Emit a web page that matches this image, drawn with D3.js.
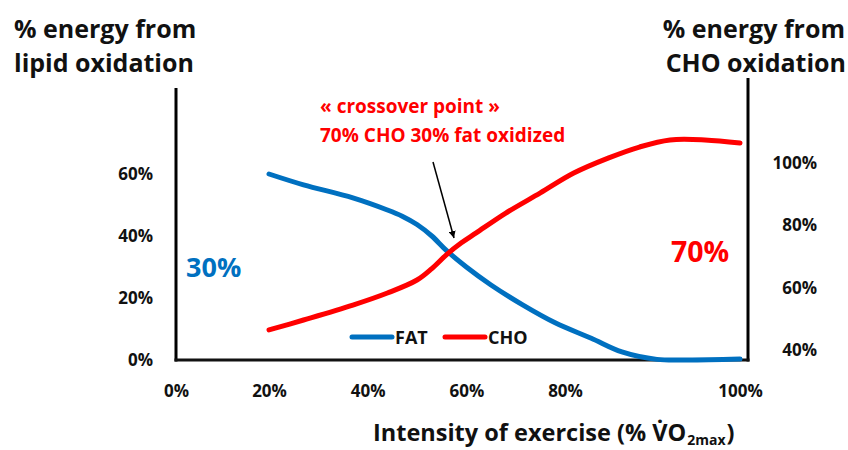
<!DOCTYPE html>
<html><head><meta charset="utf-8">
<script src="https://cdn.jsdelivr.net/npm/d3@7"></script>
<style>
body{margin:0;background:#fff}
svg{display:block}
text{font-family:"Open Sans",Lato,sans-serif;font-weight:700}
</style>
</head><body><svg id="c" width="848" height="450"></svg>
<script>
// ---- data ----
const xTicks = [0, 20, 40, 60, 80, 100];
const leftTicks = [0, 20, 40, 60];
const rightTicks = [40, 60, 80, 100];
const fatX = [20, 27, 37, 44, 47, 50, 53, 56, 60, 65, 71.5, 78, 83, 86.5, 90.5, 94, 100];
const fatY = [60, 56.5, 52.3, 48.4, 46.4, 43.7, 40, 35.3, 30, 24.2, 17.7, 12, 7, 2.6, 0.2, 0, 0.3];
const choX = [20, 27, 37, 44, 50, 53, 56, 59, 62, 68, 75, 81, 85, 88.5, 92, 96, 100];
const choY = [9.7, 12.9, 17.7, 21.6, 25.8, 29.5, 34, 37.8, 41, 47.4, 53.9, 60.3, 65.2, 68.7, 71, 71, 70];
const seriesNames = ["FAT", "CHO"];
const leftTitle = ["% energy from", "lipid oxidation"];
const rightTitle = ["% energy from", "CHO oxidation"];
const annotation = ["« crossover point »", "70% CHO 30% fat oxidized"];
const xTitle = ["Intensity of exercise (% V\u0307O", "2max", ")"];

const BLUE = "#0070C0", RED = "#FF0000";
const FONT = "'Open Sans', Lato, sans-serif";
const svg = d3.select("#c");
svg.append("rect").attr("width", 848).attr("height", 450).attr("fill", "#fff");

const x = d3.scaleLinear().domain([0, 20, 80, 100]).range([176, 269, 565, 740]);
const yL = d3.scaleLinear().domain([0, 60]).range([360, 174]);
const yR = d3.scaleLinear().domain([40, 100]).range([350, 163]);

// axes lines
svg.append("line").attr("x1", 176).attr("x2", 176).attr("y1", 88).attr("y2", 361.5)
  .attr("stroke", "#000").attr("stroke-width", 3);
svg.append("line").attr("x1", 748).attr("x2", 748).attr("y1", 78).attr("y2", 361.5)
  .attr("stroke", "#000").attr("stroke-width", 3);
svg.append("line").attr("x1", 174.5).attr("x2", 749.5).attr("y1", 360).attr("y2", 360)
  .attr("stroke", "#111").attr("stroke-width", 3);

// tick labels
const gl = svg.append("g").attr("transform", "translate(176,0)")
  .call(d3.axisLeft(yL).tickValues(leftTicks).tickSize(0).tickPadding(23).tickFormat(d => d + "%"));
const gr = svg.append("g").attr("transform", "translate(748,0)")
  .call(d3.axisRight(yR).tickValues(rightTicks).tickSize(0).tickFormat(d => d + "%"));
gr.selectAll("text").attr("x", 69).attr("text-anchor", "end");
const gx = svg.append("g").attr("transform", "translate(0,360)")
  .call(d3.axisBottom(x).tickValues(xTicks).tickSize(0).tickPadding(25).tickFormat(d => d + "%"));
[gl, gr, gx].forEach(g => {
  g.select(".domain").remove();
  g.selectAll("text").attr("font-family", FONT)
    .attr("font-weight", 700).attr("font-size", 17).attr("fill", "#111");
});

// lines
const line = d3.line().x(d => x(d[0])).y(d => yL(d[1])).curve(d3.curveCatmullRom.alpha(0.5));
const fat = fatX.map((v, i) => [v, fatY[i]]);
const cho = choX.map((v, i) => [v, choY[i]]);
svg.append("path").datum(fat).attr("d", line).attr("fill", "none").attr("stroke", BLUE)
  .attr("stroke-width", 5).attr("stroke-linecap", "round").attr("stroke-linejoin", "round");
svg.append("path").datum(cho).attr("d", line).attr("fill", "none").attr("stroke", RED)
  .attr("stroke-width", 5).attr("stroke-linecap", "round").attr("stroke-linejoin", "round");

// titles
const tl = svg.append("text").attr("font-size", 25).attr("fill", "#111");
tl.append("tspan").attr("x", 14).attr("y", 38).text(leftTitle[0]);
tl.append("tspan").attr("x", 14).attr("y", 72).text(leftTitle[1]);
const tr = svg.append("text").attr("text-anchor", "end").attr("font-size", 25).attr("fill", "#111");
tr.append("tspan").attr("x", 845).attr("y", 38).text(rightTitle[0]);
tr.append("tspan").attr("x", 846).attr("y", 72).text(rightTitle[1]);

// annotation
svg.append("text").attr("x", 320).attr("y", 113).attr("font-size", 19).attr("fill", RED).text(annotation[0]);
svg.append("text").attr("x", 320).attr("y", 142).attr("font-size", 19).attr("fill", RED).text(annotation[1]);
svg.append("defs").append("marker").attr("id", "ah").attr("viewBox", "0 0 10 10")
  .attr("refX", 10).attr("refY", 5).attr("markerWidth", 7).attr("markerHeight", 7)
  .attr("orient", "auto").attr("markerUnits", "userSpaceOnUse")
  .append("path").attr("d", "M0,0 L10,5 L0,10 z").attr("fill", "#000");
svg.append("line").attr("x1", 433).attr("y1", 162).attr("x2", 454).attr("y2", 238)
  .attr("stroke", "#000").attr("stroke-width", 1.5).attr("marker-end", "url(#ah)");

// big labels
svg.append("text").attr("x", 186).attr("y", 277).attr("font-size", 27).attr("fill", BLUE).text("30%");
svg.append("text").attr("x", 671).attr("y", 262).attr("font-size", 28.5).attr("fill", RED).text("70%");

// legend
const leg = [{n: seriesNames[0], c: BLUE, x: 352}, {n: seriesNames[1], c: RED, x: 445}];
leg.forEach(l => {
  svg.append("line").attr("x1", l.x).attr("x2", l.x + 40).attr("y1", 337).attr("y2", 337)
    .attr("stroke", l.c).attr("stroke-width", 5).attr("stroke-linecap", "round");
  svg.append("text").attr("x", l.x + 43).attr("y", 344).attr("font-size", 18).attr("fill", "#111").text(l.n);
});

// x axis title
const xt = svg.append("text").attr("x", 373).attr("y", 441).attr("font-size", 23.5).attr("fill", "#111").text(xTitle[0]);
const w0 = xt.node().getComputedTextLength();
const xs = svg.append("text").attr("x", 373 + w0 + 1).attr("y", 444.5).attr("font-size", 14).attr("fill", "#111").text(xTitle[1]);
const w1 = xs.node().getComputedTextLength();
svg.append("text").attr("x", 373 + w0 + w1 + 2).attr("y", 441).attr("font-size", 23.5).attr("fill", "#111").text(xTitle[2]);
</script></body></html>
